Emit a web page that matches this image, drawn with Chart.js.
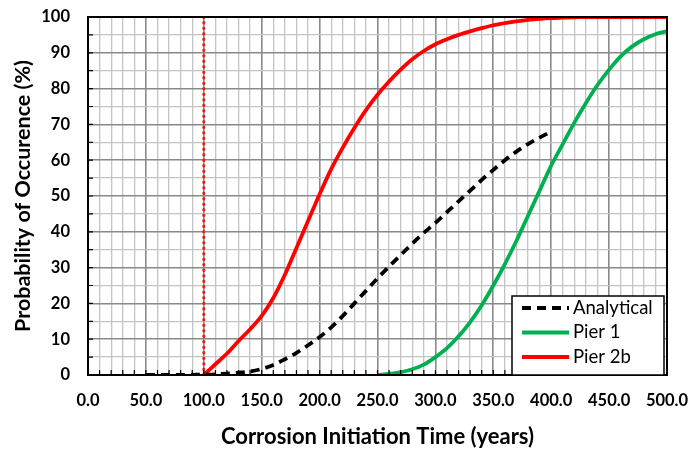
<!DOCTYPE html>
<html>
<head>
<meta charset="utf-8">
<script src="https://cdn.jsdelivr.net/npm/chart.js@4.4.1/dist/chart.umd.min.js"></script>
<style>
  html, body { margin: 0; padding: 0; background: #fff; }
  #wrap { width: 692px; height: 455px; position: relative; }
</style>
</head>
<body>
<div id="wrap"><canvas id="chart"></canvas></div>
<script>
// values
const analyticalYears = [50, 60, 70, 80, 90, 100, 110, 120, 130, 140, 150, 160, 170, 180, 190, 200, 210, 220, 230, 240, 250, 260, 270, 280, 290, 300, 310, 320, 330, 340, 350, 360, 370, 380, 390, 400];
const analyticalProb = [0, 0, 0, 0, 0.05, 0.1, 0.2, 0.4, 0.65, 1.0, 1.7, 2.8, 4.4, 6.2, 8.3, 10.6, 13.3, 16.5, 20, 23.5, 27, 30.3, 33.5, 36.7, 39.7, 42.5, 45.5, 48.5, 51.5, 54.5, 57.3, 60, 62.4, 64.5, 66.3, 68];

const pier1Years = [250, 260, 270, 280, 290, 300, 310, 320, 330, 340, 350, 360, 370, 380, 390, 400, 410, 420, 430, 440, 450, 460, 470, 480, 490, 500];
const pier1Prob = [0, 0.3, 0.8, 1.6, 2.9, 5, 7.5, 10.8, 14.8, 19.5, 25, 31, 37.5, 44.5, 51.5, 58.5, 64.5, 70.5, 76, 81, 85.3, 89, 91.8, 93.8, 95.2, 96];

const pier2bYears = [100, 110, 120, 130, 140, 150, 160, 170, 180, 190, 200, 210, 220, 230, 240, 250, 260, 270, 280, 290, 300, 310, 320, 330, 340, 350, 360, 370, 380, 390, 400, 410, 420, 430, 440, 450, 460, 470, 480, 490, 500];
const pier2bProb = [0, 3, 6, 9.5, 12.8, 16.5, 21.5, 28, 35.5, 43, 50.5, 57.5, 63.5, 69, 74, 78.3, 82, 85.3, 88.2, 90.5, 92.4, 93.8, 95, 96, 96.9, 97.7, 98.3, 98.8, 99.2, 99.5, 99.7, 99.8, 99.9, 100, 100, 100, 100, 100, 100, 100, 100];

const limitYears = [100, 100];
const limitProb = [0, 100];

const legendLabels = ['Analytical', 'Pier 1', 'Pier 2b'];

function toPoints(xs, ys) {
    return xs.map((x, i) => ({ x: x, y: ys[i] }));
}

const FONT = 'Lato, "Open Sans", sans-serif';

// frame, inward tick marks and the boxed legend
const extrasPlugin = {
    id: 'extras',
    afterDatasetsDraw(chart) {
        const ctx = chart.ctx;
        const area = chart.chartArea;
        const xs = chart.scales.x;
        const ys = chart.scales.y;
        ctx.save();
        ctx.strokeStyle = '#000';
        ctx.lineWidth = 1.2;
        ctx.beginPath();
        for (let v = 10; v < 500; v += 10) {
            const px = xs.getPixelForValue(v);
            ctx.moveTo(px, area.bottom);
            ctx.lineTo(px, area.bottom - 5);
        }
        for (let v = 5; v < 100; v += 5) {
            const py = ys.getPixelForValue(v);
            ctx.moveTo(area.left, py);
            ctx.lineTo(area.left + 5, py);
        }
        ctx.stroke();

        ctx.lineWidth = 2;
        ctx.strokeRect(area.left, area.top, area.right - area.left, area.bottom - area.top);

        // legend box
        const bx = 512, by = 296, bw = 152, bh = 79;
        ctx.fillStyle = '#fff';
        ctx.fillRect(bx, by, bw, bh);
        ctx.lineWidth = 1.5;
        ctx.strokeRect(bx, by, bw, bh);
        ctx.font = '18.5px ' + FONT;
        ctx.textBaseline = 'middle';
        ctx.textAlign = 'left';
        legendLabels.forEach((label, i) => {
            const ds = chart.data.datasets[i];
            const cy = by + 12 + i * 24.5;
            ctx.beginPath();
            ctx.setLineDash(ds.borderDash || []);
            ctx.strokeStyle = ds.borderColor;
            ctx.lineWidth = ds.borderWidth;
            ctx.moveTo(522, cy);
            ctx.lineTo(569, cy);
            ctx.stroke();
            ctx.setLineDash([]);
            ctx.fillStyle = '#000';
            ctx.fillText(label, 573, cy);
        });
        ctx.restore();
    }
};

new Chart(document.getElementById('chart'), {
    type: 'line',
    data: {
        datasets: [
            {
                label: legendLabels[0],
                data: toPoints(analyticalYears, analyticalProb),
                borderColor: '#000',
                borderWidth: 3.8,
                borderDash: [9, 6],
                pointRadius: 0,
                cubicInterpolationMode: 'monotone'
            },
            {
                label: legendLabels[1],
                data: toPoints(pier1Years, pier1Prob),
                borderColor: '#00b050',
                borderWidth: 3.8,
                pointRadius: 0,
                cubicInterpolationMode: 'monotone'
            },
            {
                label: legendLabels[2],
                data: toPoints(pier2bYears, pier2bProb),
                borderColor: '#ff0000',
                borderWidth: 3.8,
                pointRadius: 0,
                cubicInterpolationMode: 'monotone'
            },
            {
                label: 'limit',
                data: toPoints(limitYears, limitProb),
                borderColor: '#e0201a',
                borderWidth: 3,
                borderDash: [0.5, 5],
                borderCapStyle: 'round',
                pointRadius: 0
            }
        ]
    },
    options: {
        responsive: true,
        maintainAspectRatio: false,
        animation: false,
        layout: { padding: { top: 17, right: 25, bottom: 0, left: 0 } },
        plugins: {
            legend: { display: false },
            tooltip: { enabled: false }
        },
        scales: {
            x: {
                type: 'linear',
                min: 0,
                max: 500,
                afterFit: (scale) => {
                    scale.height = 80;
                    scale.paddingLeft = 0;
                    scale.paddingRight = 0;
                },
                ticks: {
                    stepSize: 10,
                    autoSkip: false,
                    maxRotation: 0,
                    padding: 16,
                    color: '#000',
                    font: { family: FONT, size: 16.5, weight: 'bold' },
                    callback: (v) => (v % 50 === 0 ? v.toFixed(1) : '')
                },
                grid: {
                    drawTicks: false,
                    color: (c) => (c.tick && c.tick.value % 50 === 0 ? '#8a8a8a' : '#c4c4c4'),
                    lineWidth: (c) => (c.tick && c.tick.value % 50 === 0 ? 1.6 : 1.3)
                },
                border: { color: '#000', width: 2 },
                title: {
                    display: true,
                    text: 'Corrosion Initiation Time (years)',
                    color: '#000',
                    font: { family: FONT, size: 22, weight: 'bold' },
                    padding: { top: 0, bottom: 5 }
                }
            },
            y: {
                min: 0,
                max: 100,
                afterFit: (scale) => {
                    scale.width = 88;
                    scale.paddingTop = 0;
                    scale.paddingBottom = 0;
                },
                ticks: {
                    stepSize: 5,
                    autoSkip: false,
                    padding: 18,
                    color: '#000',
                    font: { family: FONT, size: 16.5, weight: 'bold' },
                    callback: (v) => (v % 10 === 0 ? v : '')
                },
                grid: {
                    drawTicks: false,
                    color: (c) => (c.tick && c.tick.value % 10 === 0 ? '#8a8a8a' : '#c4c4c4'),
                    lineWidth: (c) => (c.tick && c.tick.value % 10 === 0 ? 1.6 : 1.3)
                },
                border: { color: '#000', width: 2 },
                title: {
                    display: true,
                    text: 'Probability of Occurence (%)',
                    color: '#000',
                    font: { family: FONT, size: 21.5, weight: 'bold' },
                    padding: { top: 10, bottom: 0 }
                }
            }
        }
    },
    plugins: [extrasPlugin]
});
</script>
</body>
</html>
